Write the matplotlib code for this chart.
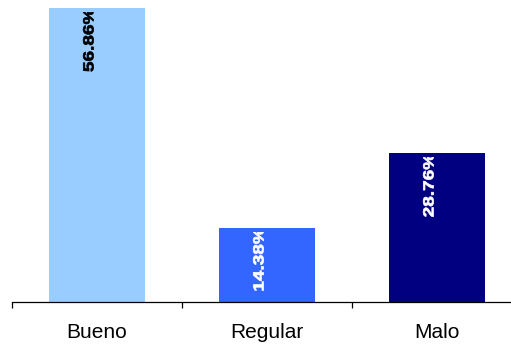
import matplotlib
matplotlib.use("Agg")
import matplotlib.pyplot as plt
from matplotlib.patches import Rectangle, PathPatch
from matplotlib.textpath import TextPath
from matplotlib.font_manager import FontProperties
from matplotlib.transforms import Affine2D, ScaledTranslation

categories = ["Bueno", "Regular", "Malo"]
values = [56.86, 14.38, 28.76]
colors = ["#99CCFF", "#3366FF", "#000080"]
label_colors = ["black", "white", "white"]

plt.rcParams["font.family"] = ["Liberation Sans", "DejaVu Sans"]

fig = plt.figure(figsize=(5.11, 3.45), dpi=100)
# plot area runs a little past the right edge of the figure
ax = fig.add_axes([12 / 511, 43 / 345, 510 / 511, 302 / 345])

px_per_unit = 5.17
ax.set_xlim(-0.5, 2.5)
ax.set_ylim(0, 302 / px_per_unit)

x = range(len(categories))
bars = ax.bar(x, values, width=0.57, color=colors)

# value labels: bold, rotated, slightly condensed, cut off near the bar top
label_font = FontProperties(family="Liberation Sans", weight="bold")
for i, v in enumerate(values):
    path = TextPath((0, 0), f"{v:.2f}%", size=19, prop=label_font)
    tr = (Affine2D().scale(1.0, 0.78).rotate_deg(90).translate(-3.5, -64)
          + ScaledTranslation(i, v, ax.transData))
    patch = PathPatch(path, transform=tr, facecolor=label_colors[i],
                      edgecolor=label_colors[i], linewidth=0.5, zorder=3)
    ax.add_patch(patch)
    clip = Rectangle((i - 0.5, 0), 1.0, v - 4 / px_per_unit,
                     transform=ax.transData, visible=False)
    ax.add_patch(clip)
    patch.set_clip_path(clip)

for side in ["top", "right", "left"]:
    ax.spines[side].set_visible(False)
ax.spines["bottom"].set_linewidth(0.9)
ax.set_yticks([])

ax.set_xticks(list(x))
ax.set_xticklabels(categories, fontsize=15)
ax.set_xticks([-0.5, 0.5, 1.5, 2.5], minor=True)
ax.tick_params(axis="x", which="major", length=0, pad=15)
ax.tick_params(axis="x", which="minor", length=4.5, width=0.9, direction="out")

fig.savefig("out.png", dpi=100)
